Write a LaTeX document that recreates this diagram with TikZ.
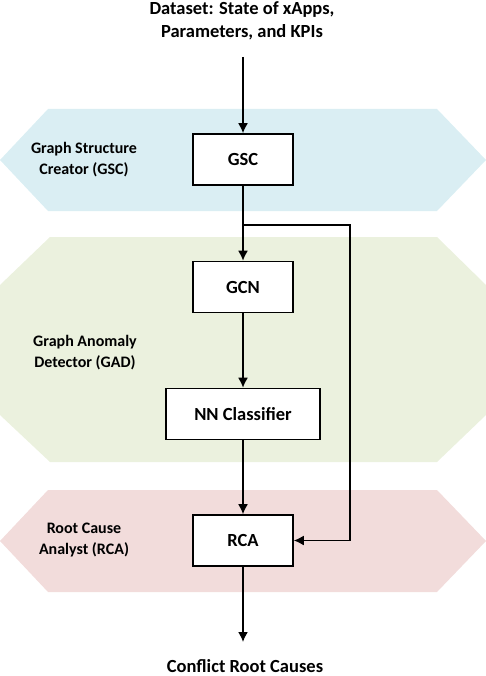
\documentclass[tikz,border=0pt]{standalone}
\usepackage{fontspec}
\setmainfont{Carlito}
\usetikzlibrary{arrows.meta}

\definecolor{gscblue}{RGB}{218,238,243}
\definecolor{gadgreen}{RGB}{235,241,222}
\definecolor{rcapink}{RGB}{242,220,219}

\tikzset{
    block/.style={draw, line width=1.6pt, fill=white, minimum width=100pt,
        minimum height=51pt, font=\bfseries\fontsize{18.5}{20}\selectfont},
    bandlabel/.style={align=center, font=\bfseries\fontsize{16}{21}\selectfont},
    flow/.style={line width=1.6pt, -{Latex[length=10pt,width=10pt]}}
}

\begin{document}
\begin{tikzpicture}[x=1pt,y=-1pt]

    \useasboundingbox (0,0) rectangle (486,676);

    % Make the coloured bands
    \fill[gscblue] (0,160) -- (48,109) -- (437,109) -- (486,160) -- (437,211) -- (48,211) -- cycle;
    \fill[gadgreen] (0,285) -- (50,237) -- (437,237) -- (486,285) -- (486,415)
        -- (437,462) -- (50,462) -- (0,415) -- cycle;
    \fill[rcapink] (0,541) -- (48,490) -- (437,490) -- (486,541) -- (437,592) -- (48,592) -- cycle;

    \node[bandlabel] (gsclabel) at (84,160) {Graph Structure\\Creator (GSC)};
    \node[bandlabel] (gadlabel) at (85,353) {Graph Anomaly\\Detector (GAD)};
    \node[bandlabel] (rcalabel) at (84,540) {Root Cause\\Analyst (RCA)};

    % Make the blocks
    \node[align=center, font=\bfseries\fontsize{18.5}{23}\selectfont] (data) at (242,21)
        {Dataset: State of xApps,\\Parameters, and KPIs};
    \node[block] (gsc) at (243,159.5) {GSC};
    \node[block] (gcn) at (243,287) {GCN};
    \node[block, minimum width=154pt] (nn) at (243,414) {NN Classifier};
    \node[block] (rca) at (243,540.5) {RCA};
    \node[font=\bfseries\fontsize{18.5}{20}\selectfont] (out) at (245,666) {Conflict Root Causes};

    \coordinate (in) at (243,57);
    \coordinate (split) at (243,225);
    \coordinate (back) at (350,225);
    \coordinate (end) at (243,642);

    \draw[flow] (in) -- (gsc);
    \draw[flow] (gsc) -- (gcn);
    \draw[flow] (gcn) -- (nn);
    \draw[flow] (nn) -- (rca);
    \draw[flow] (split) -- (back) |- (rca.east);
    \draw[flow] (rca) -- (end);

\end{tikzpicture}
\end{document}
